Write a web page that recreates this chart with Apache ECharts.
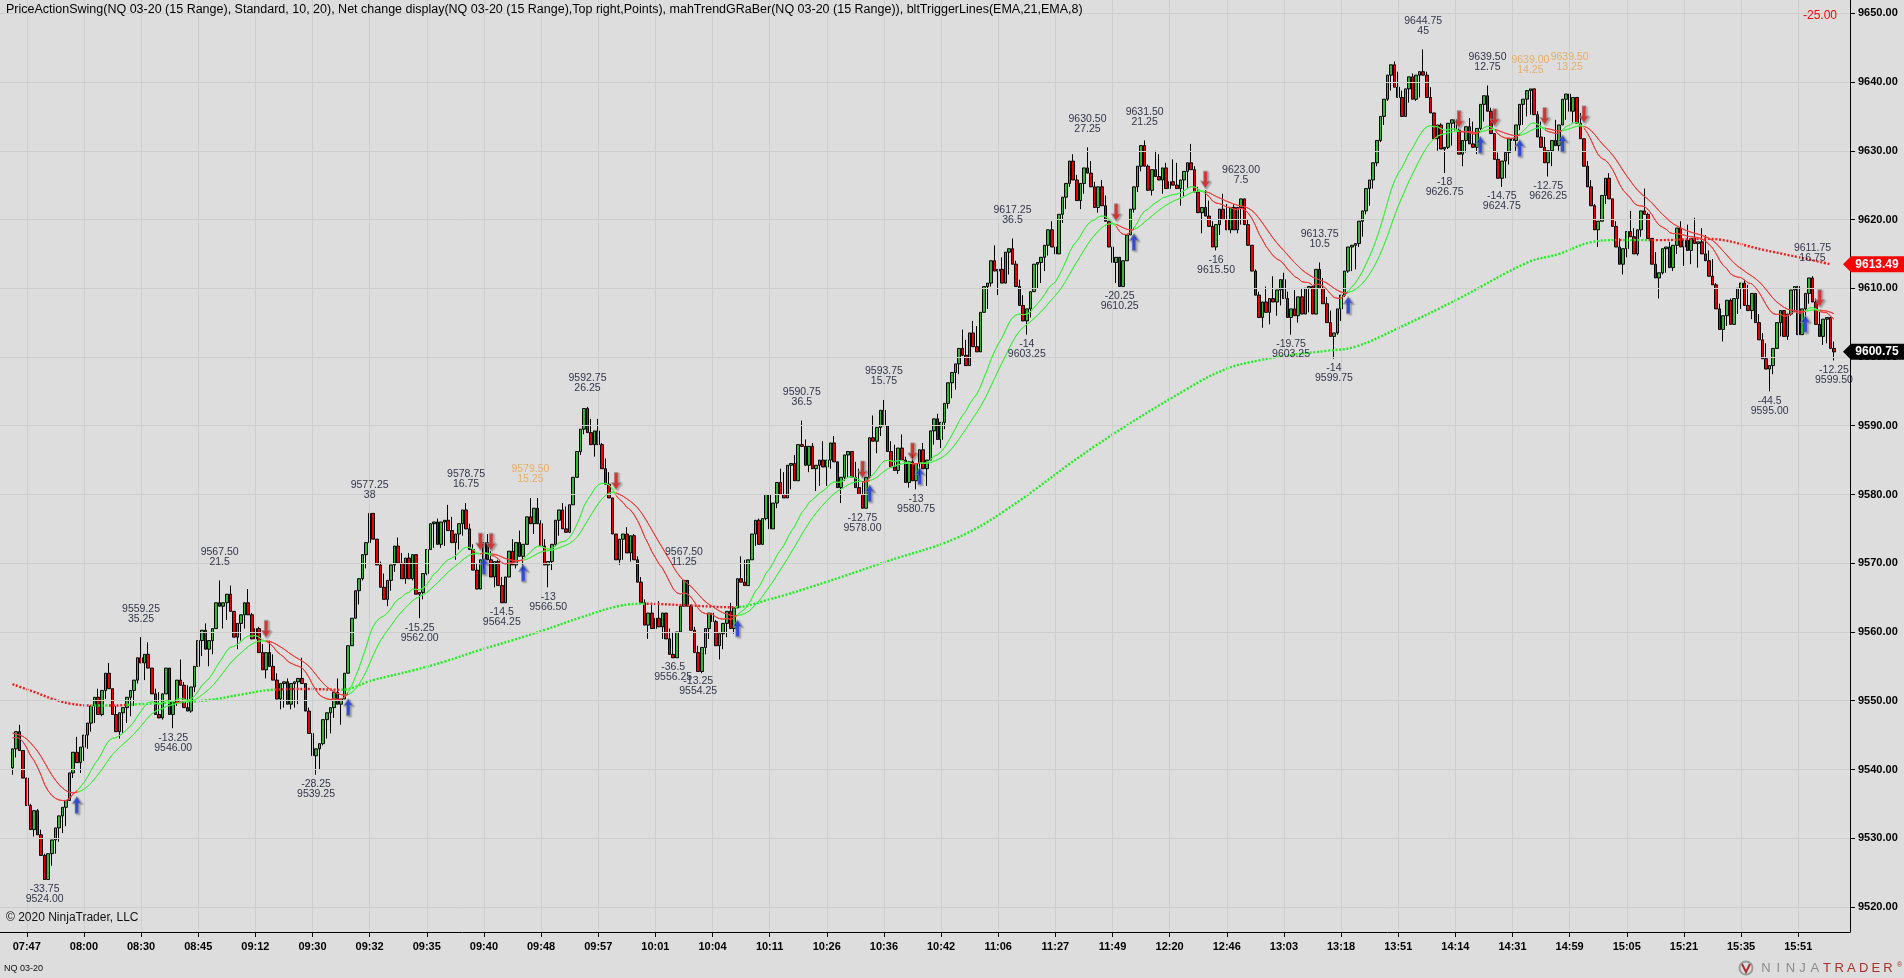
<!DOCTYPE html>
<html>
<head>
<meta charset="utf-8">
<script src="https://cdn.jsdelivr.net/npm/echarts@6/dist/echarts.min.js"></script>
<style>
html,body{margin:0;padding:0;background:#dddddd;overflow:hidden;}
#chart{width:1904px;height:978px;}
</style>
</head>
<body>
<div id="chart"></div>
<script>
// ---------------- data ----------------
// 15-tick (3.75 pt) range bars: closes of every bar, left to right
const RANGE = 3.75;
const firstOpen = 9540.25;
const closes = [
9543.0,9545.5,9542.75,9538.75,9534.75,9531.25,9534.0,9530.5,9527.5,9524.0,
9527.75,9529.75,9531.5,9533.25,9534.5,9535.5,9539.5,9542.5,9541.0,9543.25,
9545.0,9546.75,9549.25,9550.5,9548.0,9551.5,9554.0,9551.75,9548.0,9545.5,
9548.25,9549.0,9550.5,9551.5,9553.0,9556.25,9555.5,9556.75,9554.75,9551.0,
9548.0,9547.5,9551.0,9554.75,9548.0,9549.75,9553.0,9552.25,9549.0,9548.5,
9552.0,9555.0,9558.75,9560.25,9557.5,9558.75,9560.5,
9564.25,9563.75,9564.25,9565.5,9563.0,9559.25,9561.25,9562.5,9564.25,9562.5,
9559.0,9560.5,9557.0,9554.5,9557.0,9555.0,9553.0,9550.25,9552.5,9552.75,
9549.5,9552.5,9552.75,9553.25,9552.5,9548.5,9545.25,9542.0,9543.0,9543.75,
9547.25,9548.25,9549.0,9551.25,9549.5,9550.25,9554.0,9558.0,9562.0,9566.0,
9567.75,9571.25,9573.0,9577.25,9573.5,9569.75,9566.5,9564.75,9567.5,9569.75,
9572.5,9570.0,9567.75,9570.75,9567.75,9571.25,9565.5,
9565.75,9568.5,9572.0,9575.75,9576.0,9572.75,9576.0,9576.25,9574.75,9573.0,
9574.25,9575.75,9577.75,9575.0,9572.0,9569.0,9566.25,9570.5,9573.0,9570.5,
9568.0,9570.25,9566.75,9564.25,9568.0,9571.75,9569.75,9573.0,9571.0,9572.75,
9576.75,9575.75,9578.0,9575.75,9572.5,9569.75,9570.25,9572.75,9576.25,9577.75,
9575.0,9574.5,9578.5,9582.5,9586.25,9589.5,9592.5,9589.0,9587.25,9589.25,
9587.25,9583.75,9581.5,9579.5,
9574.25,9570.5,9573.5,9574.25,9571.5,9574.0,9570.5,9567.25,9564.25,9561.0,
9562.75,9560.5,9562.0,9560.75,9562.75,9559.0,9556.75,9556.25,9560.0,9563.75,
9567.5,9563.75,9560.25,9557.0,9554.25,9557.75,9560.5,9562.75,9561.5,9558.0,
9559.75,9561.25,9563.0,9560.5,9563.5,9567.75,9567.25,9566.75,9570.5,9574.25,
9576.25,9572.75,9576.5,9580.0,9575.0,9578.75,9581.75,9580.0,9579.5,9584.25,
9584.5,9582.0,9587.25,9587.0,9584.25,9587.0,9583.75,9584.25,9585.0,9584.0,
9585.0,9587.5,9584.75,9581.0,9582.5,9585.75,9586.25,9582.5,9581.0,9580.0,
9578.0,9582.5,9588.25,9587.75,9589.75,9592.25,9590.0,9586.25,9584.0,9583.5,
9586.75,9585.0,9581.75,9584.75,9582.0,9584.5,9586.5,9583.75,9585.0,9589.25,
9591.0,9588.0,9590.5,9593.25,9596.25,9597.75,9599.0,9601.25,9600.25,9598.75,
9603.5,9601.5,9600.75,9606.5,9610.25,9610.75,9614.0,9612.5,9612.75,9610.75,
9615.25,
9615.75,9613.5,9610.25,9607.5,9605.25,9607.0,9609.5,9613.5,9613.75,9614.5,
9616.25,9618.5,9616.0,9615.0,9620.75,9623.25,9625.25,9628.5,9625.75,9622.75,
9625.25,9627.5,9626.75,9624.75,9621.75,9624.75,9622.0,9619.75,9616.0,9613.75,
9614.5,9610.25,9614.0,9617.75,9621.5,9624.75,9627.75,9630.75,9627.75,9624.25,
9627.25,9626.25,9625.75,9627.5,9624.5,9625.5,9625.0,9624.5,
9625.75,9627.0,9628.25,9627.25,9624.0,9621.0,9621.75,9620.5,9619.0,9616.0,
9619.25,9621.5,9620.0,9618.5,9621.75,9618.5,9621.75,9623.0,9619.25,9616.25,
9612.5,9609.0,9605.75,9608.0,9606.5,9608.5,9608.0,9609.75,9611.25,9608.5,
9605.75,9607.0,9606.0,9608.75,9606.25,9610.0,9610.25,9606.25,9612.75,9610.0,
9607.75,9605.0,9603.0,9603.5,9607.0,9609.0,9612.5,9616.0,9616.25,9616.5,
9619.75,9621.25,9624.5,9625.75,9628.25,9631.5,9635.0,9637.5,9641.0,9642.5,
9639.25,9637.75,9635.0,9639.0,9640.75,9637.5,9641.0,9641.5,9641.0,9637.75,
9635.5,9631.75,9633.75,9630.25,9630.5,9634.0,9634.5,9633.0,9629.5,9631.5,
9633.5,9631.0,9630.5,9633.25,9636.75,9638.0,9635.75,9632.5,9628.75,9626.0,
9628.5,9629.75,9631.75,9631.5,9633.75,9636.75,9637.5,
9638.75,9639.0,9635.25,9632.0,9630.5,9628.25,9630.0,9631.5,9630.75,9633.75,
9637.5,9638.25,9635.75,9637.75,9634.0,9631.75,9627.75,9624.75,9622.0,9618.5,
9619.75,9623.5,9626.0,9623.0,9619.0,9616.0,9613.5,9615.75,9618.25,9617.5,
9615.0,9618.5,9621.25,9620.75,9617.25,9613.5,9611.5,9612.25,9615.75,9616.0,
9613.0,9616.25,9618.75,9616.0,9617.0,9615.5,9617.25,9616.5,9616.75,9615.0,
9614.0,9611.75,9610.5,9607.0,9604.0,9606.0,9608.25,9604.75,9608.5,9610.0,
9610.75,9607.5,9606.75,9609.25,9605.0,9602.5,9599.75,9598.25,9598.75,9601.25,
9605.0,9606.75,9603.0,9606.25,9609.75,9610.25,9603.25,9607.0,9609.25,9611.5,
9608.0,9604.75,9603.0,9605.5,9605.75,9601.25,9600.75
];
// the last (still forming) bar
const lastBarLow = 9599.50;
const lastBarHigh = 9602.25;

// time axis labels (one every 16 bars, first on bar 4)
const timeLabels = ['07:47','08:00','08:30','08:45','09:12','09:30','09:32','09:35','09:40','09:48','09:57',
  '10:01','10:04','10:11','10:26','10:36','10:42','11:06','11:27','11:49','12:20','12:46','13:03','13:18',
  '13:51','14:14','14:31','14:59','15:05','15:21','15:35','15:51'];
const labelFirstBar = 4;
const labelEvery = 16;

// price axis ticks
const priceTicks = [9520,9530,9540,9550,9560,9570,9580,9590,9600,9610,9620,9630,9640,9650];

// PriceActionSwing labels
const swingHighBars   = [36, 58, 100, 127, 145, 161, 188, 221, 244, 280, 301, 317, 344, 366, 395, 413, 425, 436, 504];
const swingHighPrices = [9559.25,9567.50,9577.25,9578.75,9579.50,9592.75,9567.50,9590.75,9593.75,9617.25,9630.50,9631.50,9623.00,9613.75,9644.75,9639.50,9639.00,9639.50,9611.75];
const swingHighLens   = [35.25,21.5,38,16.75,15.25,26.25,11.25,36.5,15.75,36.5,27.25,21.25,7.5,10.5,45,12.75,14.25,13.25,16.75];
const swingHighDouble = [false,false,false,false,true,false,false,false,false,false,false,false,false,false,false,false,true,true,false];
const swingLowBars   = [9, 45, 85, 114, 137, 150, 185, 192, 238, 253, 284, 310, 337, 358, 370, 401, 417, 430, 492, 510];
const swingLowPrices = [9524.00,9546.00,9539.25,9562.00,9564.25,9566.50,9556.25,9554.25,9578.00,9580.75,9603.25,9610.25,9615.50,9603.25,9599.75,9626.75,9624.75,9626.25,9595.00,9599.50];
const swingLowLens   = [-33.75,-13.25,-28.25,-15.25,-14.5,-13,-36.5,-13.25,-12.75,-13,-14,-20.25,-16,-19.75,-14,-18,-14.75,-12.75,-44.5,-12.25];

// mahTrendGRaBer dotted trend line, read at sample bars
const trendBars   = [0,6,11,16,22,28,35,44,55,64,73,83,92,101,112,121,131,140,149,159,170,177,188,202,211,228,245,264,278,303,329,340,349,358,368,376,388,405,424,433,442,449,461,474,491,509];
const trendValues = [9552.4,9551.3,9550.3,9549.6,9549.3,9549.3,9549.5,9549.7,9550.1,9550.9,9551.6,9551.7,9551.6,9553.0,9554.4,9555.7,9557.4,9558.8,9560.3,9562.1,9563.8,9564.1,9563.9,9563.6,9564.6,9567.3,9570.3,9573.6,9577.7,9587.0,9595.4,9598.3,9599.5,9600.3,9600.9,9601.5,9604.2,9608.5,9613.7,9615.0,9616.7,9617.0,9617.0,9617.2,9615.5,9613.5];
// bar ranges where the dotted line is drawn red
const trendRedRanges = [[0,21],[27,31],[45,47],[73,91],[177,201],[449,450],[458,510]];
const trendLastValue = 9613.49;

// bltTriggerLines(EMA,21,EMA,8): start values of both lines at bar 0
const triggerFastPeriod = 21, triggerSlowPeriod = 8;
const triggerStart = [9544.75, 9545.5];

const netChangeText = '-25.00';
const titleText = 'PriceActionSwing(NQ 03-20 (15 Range), Standard, 10, 20), Net change display(NQ 03-20 (15 Range),Top right,Points), mahTrendGRaBer(NQ 03-20 (15 Range)), bltTriggerLines(EMA,21,EMA,8)';
const logoWord = 'NINJATRADER';

// ---------------- build ----------------
const LEAD = 3, TRAIL = 4;
const N = closes.length;
const SLOTS = LEAD + N + TRAIL;

const UP = '#33b833', DOWN = '#e60000';
const LINE_GREEN = '#44ee44', LINE_RED = '#f23c3c';
const DOT_GREEN = '#1ff01f', DOT_RED = '#f01e1e';
const NAVY = '#050520', ORANGE = '#e8a24e';
const NARROW = '"Liberation Sans Narrow","Arial Narrow","Liberation Sans",Arial,sans-serif';
const SANS = '"Liberation Sans",Arial,sans-serif';

const candleData = [];
for (let i = 0; i < N; i++) {
  const o = i === 0 ? firstOpen : closes[i - 1];
  const c = closes[i];
  let h, l;
  if (c >= o) { h = c; l = Math.min(o, c - RANGE); }
  else { l = c; h = Math.max(o, c + RANGE); }
  if (i === N - 1) { l = lastBarLow; h = lastBarHigh; }
  candleData.push([i + LEAD, o, c, l, h]);
}

const categories = [];
for (let s = 0; s < SLOTS; s++) {
  const b = s - LEAD;
  const k = (b - labelFirstBar) / labelEvery;
  categories.push(b >= labelFirstBar && Number.isInteger(k) && k < timeLabels.length ? timeLabels[k] : '');
}
const labelSlots = [];
categories.forEach((c, s) => { if (c !== '') labelSlots.push(s); });

function ema(src, n, seed) {
  const k = 2 / (n + 1); const out = []; let e = seed;
  for (let i = 0; i < src.length; i++) { e = src[i] * k + e * (1 - k); out.push(e); }
  return out;
}
const fast = ema(closes, triggerFastPeriod, triggerStart[0]);
const slow = ema(fast, triggerSlowPeriod, triggerStart[1]);
const state = fast.map((v, i) => v > slow[i]);

const triggerPieces = [];
let runStart = 0;
for (let i = 1; i <= N; i++) {
  if (i === N || state[i] !== state[runStart]) {
    triggerPieces.push({
      gte: runStart === 0 ? -1000 : runStart + LEAD - 0.5,
      lt: i === N ? 100000 : (i - 1) + LEAD + 0.5,
      color: state[runStart] ? LINE_GREEN : LINE_RED
    });
    runStart = i;
  }
}
const downArrows = [], upArrows = [];
for (let i = 1; i < N; i++) {
  if (state[i] !== state[i - 1]) {
    const hi = Math.max(fast[i], slow[i]), lo = Math.min(fast[i], slow[i]);
    if (state[i]) upArrows.push([i + LEAD, lo - 0.6]);
    else downArrows.push([i + LEAD, hi + 0.5]);
  }
}

const trendPieces = [];
let cur = -1000;
trendRedRanges.forEach(([a, b]) => {
  const lo = a + LEAD - 0.5, hi = b + LEAD + 0.5;
  if (lo > cur) trendPieces.push({ gte: cur, lt: lo, color: DOT_GREEN });
  trendPieces.push({ gte: lo, lt: hi, color: DOT_RED });
  cur = hi;
});
trendPieces.push({ gte: cur, lte: 100000, color: DOT_GREEN });

const highLabelData = swingHighBars.map((b, k) => ({
  value: [b + LEAD, swingHighPrices[k]],
  label: { formatter: swingHighPrices[k].toFixed(2) + '\n' + String(swingHighLens[k]), color: swingHighDouble[k] ? ORANGE : NAVY }
}));
const lowLabelData = swingLowBars.map((b, k) => ({
  value: [b + LEAD, swingLowPrices[k]],
  label: { formatter: String(swingLowLens[k]) + '\n' + swingLowPrices[k].toFixed(2), color: NAVY }
}));

const gridLines = [];
labelSlots.forEach(s => gridLines.push({ xAxis: s }));
priceTicks.forEach(p => gridLines.push({ yAxis: p }));

const UP_ARROW = 'path://M5,0 L10,6.5 L7,6.5 L7,16 L3,16 L3,6.5 L0,6.5 Z';
const DOWN_ARROW = 'path://M3,0 L7,0 L7,9.5 L10,9.5 L5,16 L0,9.5 L3,9.5 Z';
const tickIv = (idx, val) => val !== '';

const chart = echarts.init(document.getElementById('chart'), null, { renderer: 'canvas' });
chart.setOption({
  animation: false,
  backgroundColor: '#dddddd',
  textStyle: { fontFamily: SANS },
  grid: { left: 0, right: 54, top: 0, bottom: 46, containLabel: false, outerBoundsMode: 'none' },
  xAxis: {
    type: 'category', data: categories, boundaryGap: true,
    axisLine: { show: true, lineStyle: { color: '#000', width: 1 } },
    axisTick: { show: true, interval: tickIv, alignWithLabel: true, length: 5, lineStyle: { color: '#000' } },
    axisLabel: { interval: tickIv, color: '#000', fontSize: 11, fontWeight: 'bold', fontFamily: SANS, margin: 9 },
    splitLine: { show: false }
  },
  yAxis: {
    type: 'value', position: 'right', min: 9516.36, max: 9651.93, scale: true,
    axisLine: { show: true, lineStyle: { color: '#000', width: 1 } },
    axisTick: { show: true, customValues: priceTicks, length: 5, lineStyle: { color: '#000' } },
    axisLabel: { customValues: priceTicks, formatter: v => v.toFixed(2), color: '#000', fontSize: 11, fontWeight: 'bold', fontFamily: SANS, margin: 8 },
    splitLine: { show: false }
  },
  visualMap: [
    { type: 'piecewise', show: false, seriesIndex: 2, dimension: 0, pieces: trendPieces },
    { type: 'piecewise', show: false, seriesIndex: [3, 4], dimension: 0, pieces: triggerPieces }
  ],
  series: [
    { type: 'line', data: [], z: 0, silent: true,
      markLine: { silent: true, animation: false, symbol: ['none', 'none'], label: { show: false },
        lineStyle: { color: '#cecece', width: 1, type: 'solid' }, emphasis: { disabled: true }, data: gridLines } },
    { type: 'candlestick', data: candleData, encode: { x: 0, y: [1, 2, 3, 4] }, z: 3, barWidth: 3,
      itemStyle: { color: UP, color0: DOWN, borderColor: '#000', borderColor0: '#000', borderWidth: 1 } },
    { type: 'line', data: trendBars.map((b, k) => [b + LEAD, trendValues[k]]), z: 4, smooth: 0.4,
      showSymbol: false, lineStyle: { width: 2.4, type: [2, 1.7], cap: 'butt' } },
    { type: 'line', data: fast.map((v, i) => [i + LEAD, v]), z: 5, showSymbol: false, lineStyle: { width: 1 } },
    { type: 'line', data: slow.map((v, i) => [i + LEAD, v]), z: 5, showSymbol: false, lineStyle: { width: 1 } },
    { type: 'scatter', data: downArrows, z: 6, symbol: DOWN_ARROW, symbolSize: [9, 17], symbolOffset: [0, '-50%'],
      itemStyle: { color: '#e81414', borderColor: 'rgba(150,150,150,0.8)', borderWidth: 1, shadowColor: 'rgba(60,60,60,0.4)', shadowBlur: 1.5, shadowOffsetX: 1.5, shadowOffsetY: 1 } },
    { type: 'scatter', data: upArrows, z: 6, symbol: UP_ARROW, symbolSize: [9, 17], symbolOffset: [0, '50%'],
      itemStyle: { color: '#1432e6', borderColor: 'rgba(150,150,150,0.8)', borderWidth: 1, shadowColor: 'rgba(60,60,60,0.4)', shadowBlur: 1.5, shadowOffsetX: 1.5, shadowOffsetY: 1 } },
    { type: 'scatter', data: highLabelData, z: 7, symbol: 'rect', symbolSize: 1, itemStyle: { color: 'rgba(0,0,0,0)' },
      label: { show: true, position: 'top', distance: 13, fontSize: 10.5, lineHeight: 10, fontFamily: NARROW, align: 'center' } },
    { type: 'scatter', data: lowLabelData, z: 7, symbol: 'rect', symbolSize: 1, itemStyle: { color: 'rgba(0,0,0,0)' },
      label: { show: true, position: 'bottom', distance: 4, fontSize: 10.5, lineHeight: 10, fontFamily: NARROW, align: 'center' } }
  ]
});

// overlays placed through the chart's own scale
function tag(value, text, bg) {
  const y = chart.convertToPixel({ yAxisIndex: 0 }, value);
  return [
    { type: 'polygon', z: 100, shape: { points: [[1843, y], [1851, y - 8], [1904, y - 8], [1904, y + 8], [1851, y + 8]] }, style: { fill: bg } },
    { type: 'text', z: 101, x: 1877, y: y, style: { text: text, fill: '#ffffff', font: 'bold 12px ' + SANS, align: 'center', verticalAlign: 'middle' } }
  ];
}
const graphics = [
  { type: 'text', z: 50, x: 6, y: 10, style: { text: titleText, fill: '#000', font: '12.5px ' + NARROW, verticalAlign: 'middle' } },
  { type: 'text', z: 50, x: 1837, y: 16, style: { text: netChangeText, fill: '#ff0000', font: '12px ' + SANS, align: 'right', verticalAlign: 'middle' } },
  { type: 'text', z: 50, x: 6, y: 918, style: { text: '\u00a9 2020 NinjaTrader, LLC', fill: '#111', font: '12px ' + NARROW, verticalAlign: 'middle' } },
  { type: 'text', z: 50, x: 4, y: 969, style: { text: 'NQ 03-20', fill: '#111', font: '9px ' + SANS, verticalAlign: 'middle' } },
  { type: 'circle', z: 50, shape: { cx: 1746, cy: 968, r: 6.5 }, style: { fill: 'none', stroke: '#9a9a9a', lineWidth: 2 } },
  { type: 'polyline', z: 51, shape: { points: [[1742, 964], [1746, 972], [1750, 964]] }, style: { stroke: '#a8322d', lineWidth: 2, fill: 'none' } }
];
logoWord.split('').forEach((ch, k) => {
  graphics.push({ type: 'text', z: 50, x: 1766 + k * 12.2, y: 968,
    style: { text: ch, fill: k < 5 ? '#8c8c8c' : '#a8322d', font: '13px ' + SANS, align: 'center', verticalAlign: 'middle' } });
});
graphics.push({ type: 'text', z: 50, x: 1897, y: 965, style: { text: '\u00ae', fill: '#a8322d', font: '7px ' + SANS, verticalAlign: 'middle' } });
tag(trendLastValue, trendLastValue.toFixed(2), '#ff0000').forEach(g => graphics.push(g));
tag(closes[N - 1], closes[N - 1].toFixed(2), '#000000').forEach(g => graphics.push(g));
chart.setOption({ graphic: graphics });
</script>
</body>
</html>
